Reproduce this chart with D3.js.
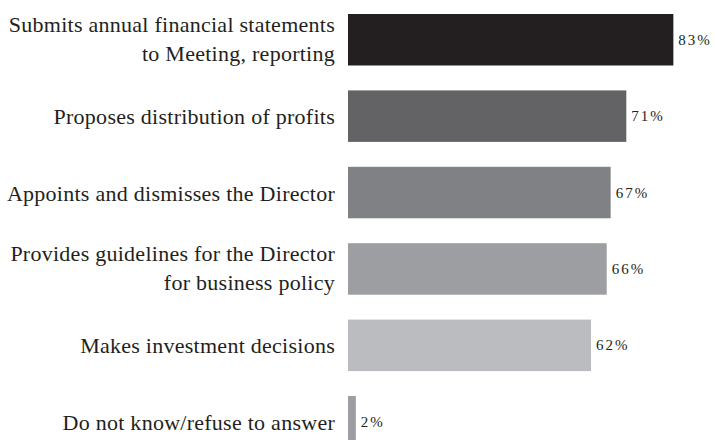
<!DOCTYPE html>
<html><head><meta charset="utf-8">
<script src="https://cdn.jsdelivr.net/npm/d3@7"></script>
<style>body{margin:0;background:#fff}svg{display:block}</style>
</head><body>
<script>
const categories = [
  ["Submits annual financial statements", "to Meeting, reporting"],
  ["Proposes distribution of profits"],
  ["Appoints and dismisses the Director"],
  ["Provides guidelines for the Director", "for business policy"],
  ["Makes investment decisions"],
  ["Do not know/refuse to answer"]
];
const values = [83, 71, 67, 66, 62, 2];
const colors = ["#231f20", "#636365", "#808184", "#9d9ea1", "#bbbcbf", "#9d9ea1"];

const W = 715, H = 440;
const svg = d3.select("body").append("svg").attr("width", W).attr("height", H);

const x = d3.scaleLinear().domain([0, 100]).range([348, 740]);
const y = d3.scaleBand().domain(d3.range(categories.length)).range([14, 447.5]).paddingInner(0.326).paddingOuter(0);

const g = svg.append("g");
g.selectAll("rect").data(values).join("rect")
  .attr("x", x(0)).attr("y", (d, i) => y(i))
  .attr("width", d => x(d) - x(0)).attr("height", y.bandwidth())
  .attr("fill", (d, i) => colors[i]);

g.selectAll("text.val").data(values).join("text").attr("class", "val")
  .attr("x", d => x(d) + 5).attr("y", (d, i) => y(i) + y.bandwidth() / 2 + 5)
  .attr("font-family", "Liberation Serif, serif").attr("font-size", 15)
  .attr("letter-spacing", 2).attr("fill", "#231f20")
  .text(d => d + "%");

const lab = g.selectAll("text.cat").data(categories).join("text").attr("class", "cat")
  .attr("text-anchor", "end")
  .attr("font-family", "Liberation Serif, serif").attr("font-size", 22)
  .attr("letter-spacing", 0.26)
  .attr("fill", "#231f20");
lab.each(function (lines, i) {
  const c = y(i) + y.bandwidth() / 2;
  const t = d3.select(this);
  lines.forEach((ln, j) => {
    const off = lines.length === 1 ? 8 : (j === 0 ? -8 : 21);
    t.append("tspan").attr("x", 335).attr("y", c + off).text(ln);
  });
});
</script>
</body></html>
